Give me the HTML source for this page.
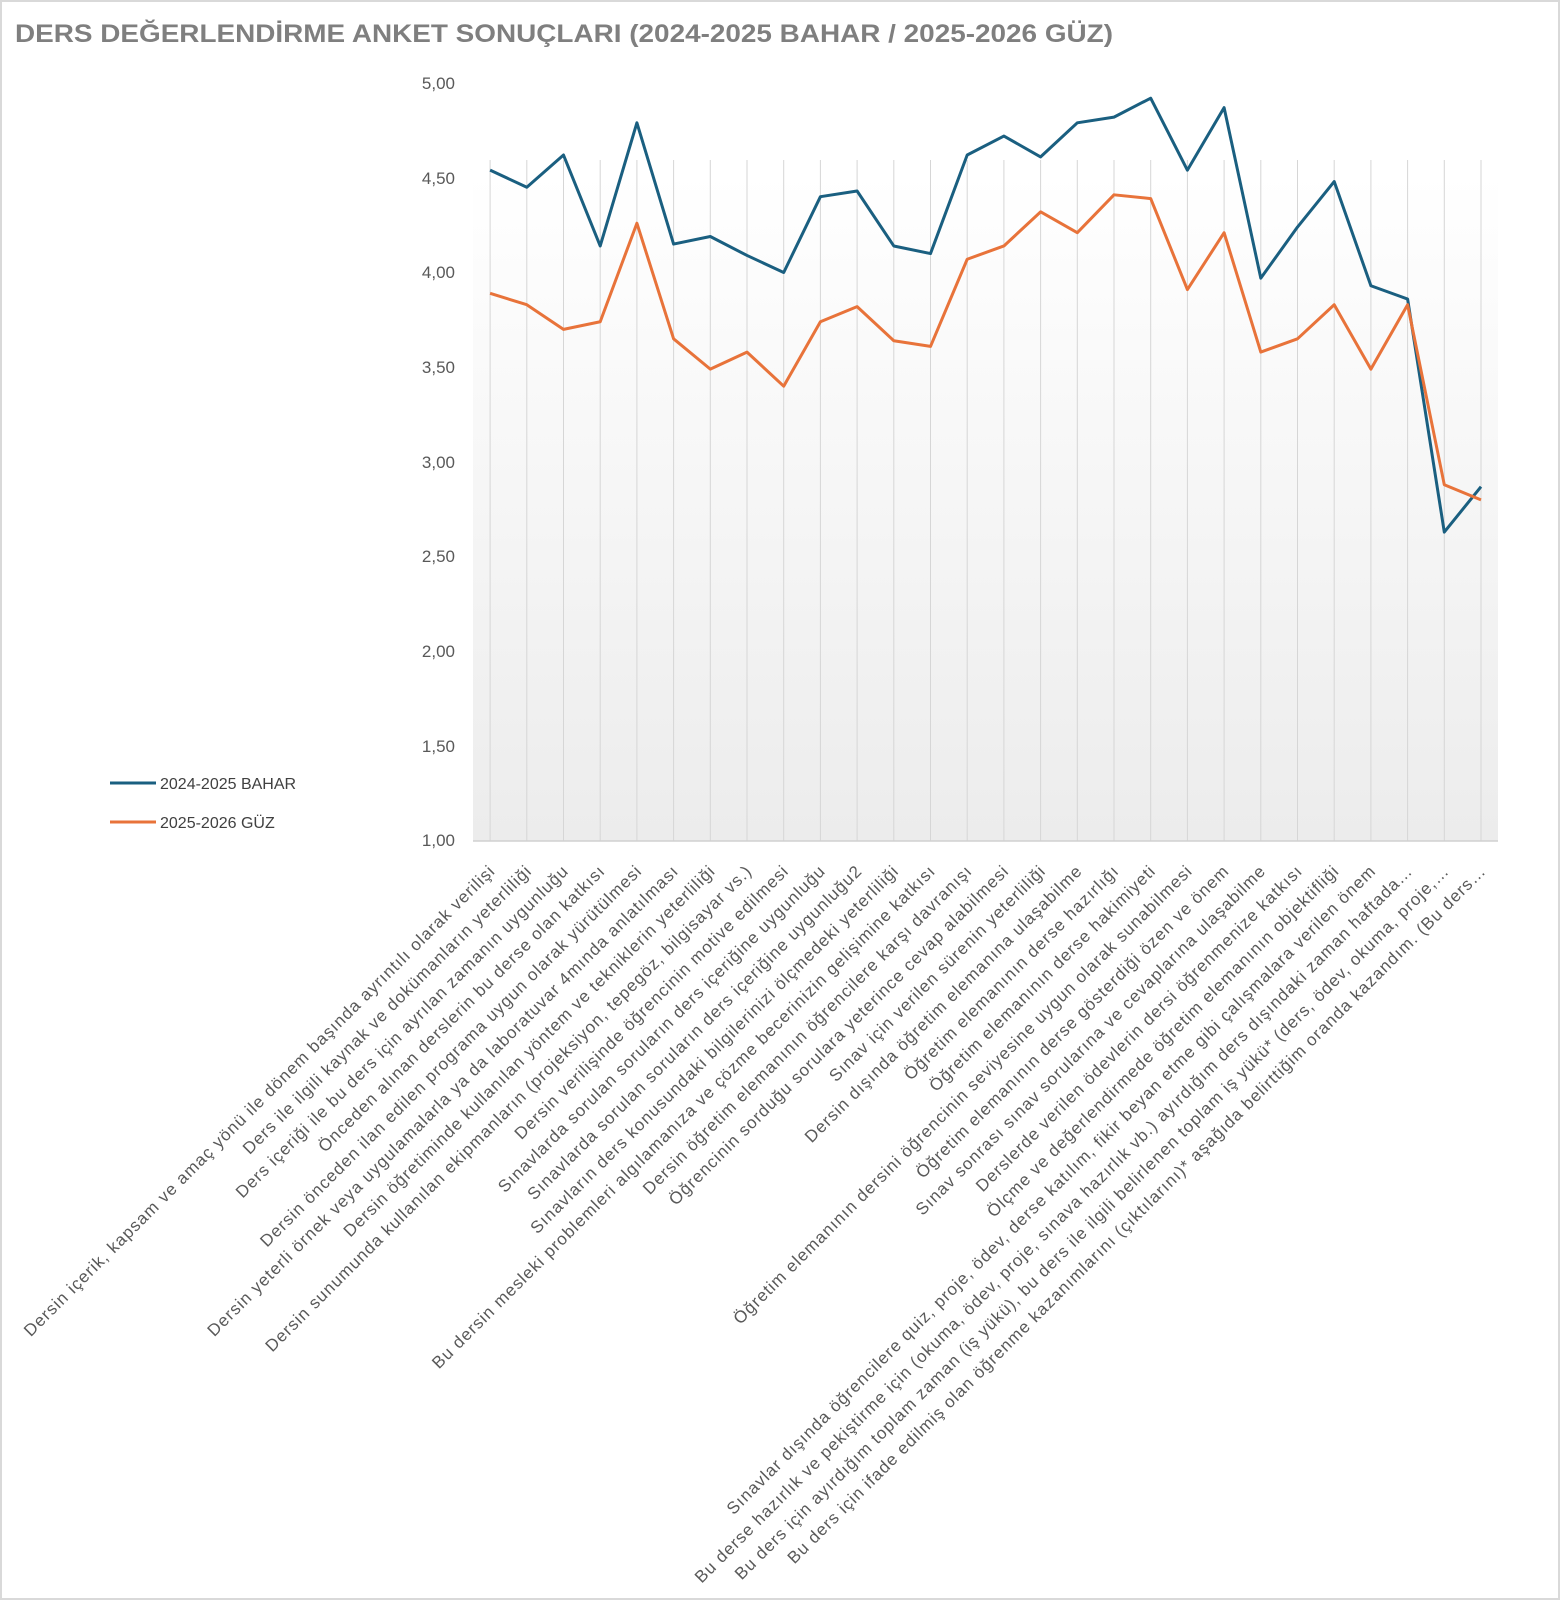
<!DOCTYPE html>
<html><head><meta charset="utf-8"><style>
html,body{margin:0;padding:0;background:#fff;}
svg{display:block;}
</style></head><body>
<svg width="1560" height="1600" viewBox="0 0 1560 1600" xmlns="http://www.w3.org/2000/svg" font-family="'Liberation Sans', sans-serif">
<defs>
<linearGradient id="bg" x1="0" y1="0" x2="0" y2="1">
<stop offset="0" stop-color="#ffffff"/>
<stop offset="0.12" stop-color="#ffffff"/>
<stop offset="1" stop-color="#ececec"/>
</linearGradient>
</defs>
<rect x="1" y="1" width="1558" height="1598" fill="#fff" stroke="#d9d9d9" stroke-width="2"/>
<text x="15" y="42" font-size="25" font-weight="bold" fill="#7f7f7f" textLength="1098" lengthAdjust="spacingAndGlyphs">DERS DEĞERLENDİRME ANKET SONUÇLARI (2024-2025 BAHAR / 2025-2026 GÜZ)</text>
<rect x="473" y="83" width="1025" height="758" fill="url(#bg)"/>
<g stroke="#d6d6d6" stroke-width="1" id="grid"></g>
<line x1="473" y1="841" x2="1498" y2="841" stroke="#d0d0d0" stroke-width="1.5"/>
<g font-size="17" fill="#595959" text-anchor="end">
<text x="455" y="89">5,00</text>
<text x="455" y="184">4,50</text>
<text x="455" y="278">4,00</text>
<text x="455" y="373">3,50</text>
<text x="455" y="468">3,00</text>
<text x="455" y="562">2,50</text>
<text x="455" y="657">2,00</text>
<text x="455" y="752">1,50</text>
<text x="455" y="846">1,00</text>
</g>
<g id="series"></g>
<line x1="110" y1="783" x2="156" y2="783" stroke="#1a5f80" stroke-width="3"/>
<text x="160" y="789" font-size="16" fill="#404040">2024-2025 BAHAR</text>
<line x1="110" y1="822" x2="156" y2="822" stroke="#e8733a" stroke-width="3"/>
<text x="160" y="828" font-size="16" fill="#404040">2025-2026 GÜZ</text>
<g id="labels" font-size="17" letter-spacing="1" fill="#595959" text-anchor="end"></g>
</svg>
<script>
var ns="http://www.w3.org/2000/svg";
function X(i){return 490.1+36.7*i;}
function Y(v){return 841-(v-1)*189.5;}
var g=document.getElementById('grid');
for(var i=0;i<28;i++){var l=document.createElementNS(ns,'line');l.setAttribute('x1',X(i));l.setAttribute('x2',X(i));l.setAttribute('y1',160);l.setAttribute('y2',841);g.appendChild(l);}
var b=[4.54,4.45,4.62,4.14,4.79,4.15,4.19,4.09,4.00,4.40,4.43,4.14,4.10,4.62,4.72,4.61,4.79,4.82,4.92,4.54,4.87,3.97,4.24,4.48,3.93,3.86,2.63,2.87];
var o=[3.89,3.83,3.70,3.74,4.26,3.65,3.49,3.58,3.40,3.74,3.82,3.64,3.61,4.07,4.14,4.32,4.21,4.41,4.39,3.91,4.21,3.58,3.65,3.83,3.49,3.83,2.88,2.80];
var s=document.getElementById('series');
[[b,'#1a5f80'],[o,'#e8733a']].forEach(function(p){var pts=p[0].map(function(v,i){return X(i)+','+Y(v);}).join(' ');var pl=document.createElementNS(ns,'polyline');pl.setAttribute('points',pts);pl.setAttribute('fill','none');pl.setAttribute('stroke',p[1]);pl.setAttribute('stroke-width','3');pl.setAttribute('stroke-linejoin','round');s.appendChild(pl);});
var labs=["Dersin içerik, kapsam ve amaç yönü ile dönem başında ayrıntılı olarak verilişi","Ders ile ilgili kaynak ve dokümanların yeterliliği","Ders içeriği ile bu ders için ayrılan zamanın uygunluğu","Önceden alınan derslerin bu derse olan katkısı","Dersin önceden ilan edilen programa uygun olarak yürütülmesi","Dersin yeterli örnek veya uygulamalarla ya da laboratuvar 4mında anlatılması","Dersin öğretiminde kullanılan yöntem ve tekniklerin yeterliliği","Dersin sunumunda kullanılan ekipmanların (projeksiyon, tepegöz, bilgisayar vs.)","Dersin verilişinde öğrencinin motive edilmesi","Sınavlarda sorulan soruların ders içeriğine uygunluğu","Sınavlarda sorulan soruların ders içeriğine uygunluğu2","Sınavların ders konusundaki bilgilerinizi ölçmedeki yeterliliği","Bu dersin mesleki problemleri algılamanıza ve çözme becerinizin gelişimine katkısı","Dersin öğretim elemanının öğrencilere karşı davranışı","Öğrencinin sorduğu sorulara yeterince cevap alabilmesi","Sınav için verilen sürenin yeterliliği","Dersin dışında öğretim elemanına ulaşabilme","Öğretim elemanının derse hazırlığı","Öğretim elemanının derse hakimiyeti","Öğretim elemanının dersini öğrencinin seviyesine uygun olarak sunabilmesi","Öğretim elemanının derse gösterdiği özen ve önem","Sınav sonrası sınav sorularına ve cevaplarına ulaşabilme","Derslerde verilen ödevlerin dersi öğrenmenize katkısı","Ölçme ve değerlendirmede öğretim elemanının objektifliği","Sınavlar dışında öğrencilere quiz, proje, ödev, derse katılım, fikir beyan etme gibi çalışmalara verilen önem","Bu derse hazırlık ve pekiştirme için (okuma, ödev, proje, sınava hazırlık vb.) ayırdığım ders dışındaki zaman haftada…","Bu ders için ayırdığım toplam zaman (iş yükü), bu ders ile ilgili belirlenen toplam iş yükü* (ders, ödev, okuma, proje,…","Bu ders için ifade edilmiş olan öğrenme kazanımlarını (çıktılarını)* aşağıda belirttiğim oranda kazandım. (Bu ders…"];
var L=document.getElementById('labels');
labs.forEach(function(t,i){var x=X(i)+6,y=872;var e=document.createElementNS(ns,'text');e.setAttribute('x',x);e.setAttribute('y',y);e.setAttribute('transform','rotate(-45 '+x+' '+y+')');e.textContent=t;L.appendChild(e);});
</script>
</body></html>
